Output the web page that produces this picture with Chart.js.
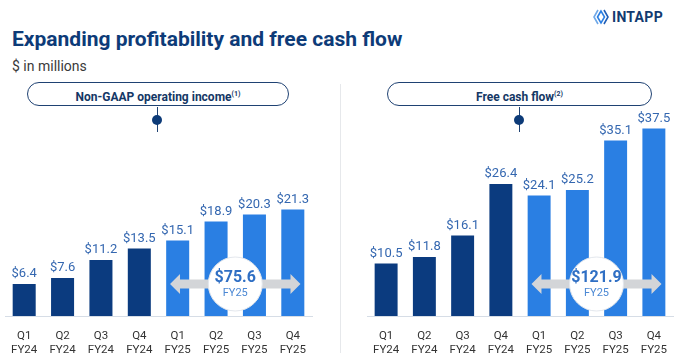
<!DOCTYPE html>
<html>
<head>
<meta charset="utf-8">
<script src="https://cdn.jsdelivr.net/npm/chart.js@4.4.1/dist/chart.umd.min.js"></script>
<style>
  body { margin: 0; background: #fff; font-family: Roboto, "Noto Sans", sans-serif; }
  #page { position: relative; width: 680px; height: 353px; overflow: hidden; }
  .title { position: absolute; left: 12px; top: 27px; font-size: 21px; font-weight: 700; color: #0d3b78; white-space: nowrap; }
  .sub { position: absolute; left: 12px; top: 58px; font-size: 14px; color: #3a3a3a; }
  .pill { position: absolute; top: 82px; height: 22px; border: 1.5px solid #1f4273; border-radius: 13px;
          font-size: 12px; font-weight: 700; color: #143765; text-align: center; line-height: 22px; }
  .pill sup { font-size: 7px; vertical-align: 5px; font-weight: 700; }
  .stem { position: absolute; top: 107px; width: 1px; height: 25px; background: #1f4273; }
  .dot { position: absolute; top: 115px; width: 10px; height: 10px; border-radius: 50%; background: #0d3b78; }
  .divider { position: absolute; left: 340px; top: 84px; width: 1px; height: 269px; background: #e6e8eb; }
  .logo { position: absolute; left: 593px; top: 9px; display: flex; align-items: center; }
  .logo span { font-size: 14px; font-weight: 700; color: #123a70; margin-left: 3px; letter-spacing: 0.3px; }
  canvas { position: absolute; }
</style>
</head>
<body>
<div id="page">
  <div class="logo">
    <svg width="16" height="16" viewBox="0 0 16 16">
      <path d="M5 1 L1 8 L5 15" fill="none" stroke="#6fa8e8" stroke-width="1.6"/>
      <path d="M8 2 L4.5 8 L8 14 L11.5 8 Z" fill="none" stroke="#2a7fe3" stroke-width="1.6"/>
      <path d="M11 1 L15 8 L11 15" fill="none" stroke="#1f5fb8" stroke-width="1.6"/>
    </svg>
    <span>INTAPP</span>
  </div>
  <div class="title">Expanding profitability and free cash flow</div>
  <div class="sub">$ in millions</div>
  <div class="divider"></div>

  <div class="pill" style="left:27px; width:260px;">Non-GAAP operating income<sup>(1)</sup></div>
  <div class="stem" style="left:157px;"></div>
  <div class="dot" style="left:152px;"></div>

  <div class="pill" style="left:387px; width:263px;">Free cash flow<sup>(2)</sup></div>
  <div class="stem" style="left:519px;"></div>
  <div class="dot" style="left:514px;"></div>

  <canvas id="opChart" width="340" height="253" style="left:0; top:100px;"></canvas>
  <canvas id="fcfChart" width="340" height="253" style="left:340px; top:100px;"></canvas>
</div>

<script>
const categories = [
  ["Q1", "FY24"], ["Q2", "FY24"], ["Q3", "FY24"], ["Q4", "FY24"],
  ["Q1", "FY25"], ["Q2", "FY25"], ["Q3", "FY25"], ["Q4", "FY25"]
];
const opIncome = [6.4, 7.6, 11.2, 13.5, 15.1, 18.9, 20.3, 21.3];
const freeCashFlow = [10.5, 11.8, 16.1, 26.4, 24.1, 25.2, 35.1, 37.5];
const fy25Totals = ["$75.6", "$121.9"];
const totalLabel = "FY25";

const DARK = "#0b3b7f";
const LIGHT = "#2a7fe3";

function barColors(values) {
  return values.map((v, i) => (i < 4 ? DARK : LIGHT));
}

// value labels above bars + FY25 circle with arrows
const overlayPlugin = {
  id: "overlay",
  afterDatasetsDraw(chart, args, opts) {
    const ctx = chart.ctx;
    const meta = chart.getDatasetMeta(0);
    const data = chart.data.datasets[0].data;
    const x = chart.scales.x;
    const y = chart.scales.y;

    ctx.save();
    ctx.font = "13px Roboto";
    ctx.fillStyle = "#3467b0";
    ctx.textAlign = "center";
    ctx.textBaseline = "middle";
    meta.data.forEach((bar, i) => {
      ctx.fillText("$" + data[i].toFixed(1), bar.x, bar.y - 10);
    });

    const catW = x.getPixelForValue(1) - x.getPixelForValue(0);
    const cx = (x.getPixelForValue(5) + x.getPixelForValue(6)) / 2;
    const cy = y.getPixelForValue(6.4);
    const leftTip = x.getPixelForValue(4) - 0.2 * catW;
    const rightTip = x.getPixelForValue(7) + 0.2 * catW;
    const shaft = 4.5, head = 10, headLen = 10;

    ctx.fillStyle = "#d3d5d8";
    ctx.beginPath();
    ctx.moveTo(leftTip, cy);
    ctx.lineTo(leftTip + headLen, cy - head);
    ctx.lineTo(leftTip + headLen, cy - shaft);
    ctx.lineTo(rightTip - headLen, cy - shaft);
    ctx.lineTo(rightTip - headLen, cy - head);
    ctx.lineTo(rightTip, cy);
    ctx.lineTo(rightTip - headLen, cy + head);
    ctx.lineTo(rightTip - headLen, cy + shaft);
    ctx.lineTo(leftTip + headLen, cy + shaft);
    ctx.lineTo(leftTip + headLen, cy + head);
    ctx.closePath();
    ctx.fill();

    ctx.beginPath();
    ctx.arc(cx, cy, 27, 0, Math.PI * 2);
    ctx.fillStyle = "#ffffff";
    ctx.fill();
    ctx.strokeStyle = "#e2e6ec";
    ctx.lineWidth = 1;
    ctx.stroke();

    ctx.fillStyle = "#2f6fc4";
    ctx.font = "bold 16px Roboto";
    ctx.fillText(opts.total, cx, cy - 6);
    ctx.fillStyle = "#4b88d4";
    ctx.font = "11px Roboto";
    ctx.fillText(totalLabel, cx, cy + 9);
    ctx.restore();
  }
};

function makeChart(id, values, total, padLeft, padRight) {
  return new Chart(document.getElementById(id), {
    type: "bar",
    data: {
      labels: categories,
      datasets: [{
        data: values,
        backgroundColor: barColors(values),
        barPercentage: 0.6,
        categoryPercentage: 1.0
      }]
    },
    options: {
      responsive: false,
      animation: false,
      layout: { padding: { top: 16, left: padLeft, right: padRight, bottom: 0 } },
      plugins: {
        legend: { display: false },
        tooltip: { enabled: false },
        overlay: { total }
      },
      scales: {
        x: {
          grid: { display: false },
          border: { display: true, color: "#d6dde6", width: 1 },
          ticks: { color: "#333", font: { family: "Roboto", size: 11.5 }, padding: 5 },
          afterFit: (s) => { s.height = 37; }
        },
        y: { display: false, min: 0, max: 40 }
      }
    },
    plugins: [overlayPlugin]
  });
}

makeChart("opChart", opIncome, fy25Totals[0], 5, 28);
makeChart("fcfChart", freeCashFlow, fy25Totals[1], 27, 7);
</script>
</body>
</html>
